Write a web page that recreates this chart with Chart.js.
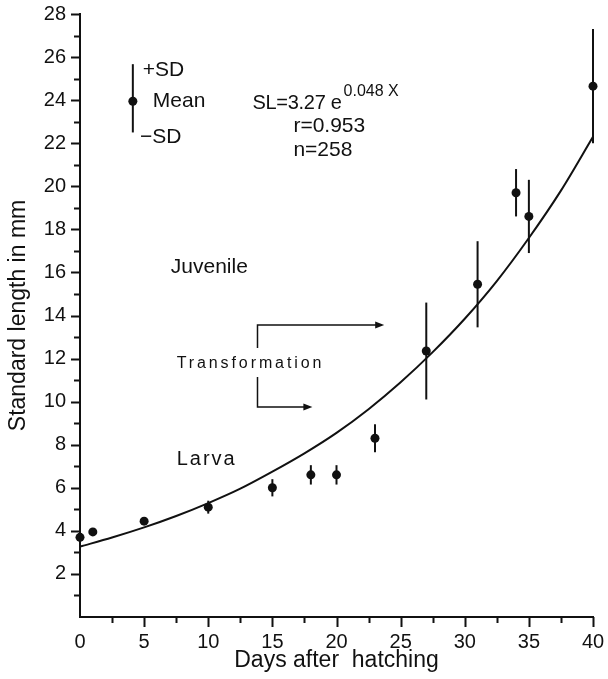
<!DOCTYPE html>
<html>
<head>
<meta charset="utf-8">
<script src="https://cdn.jsdelivr.net/npm/chart.js@4.4.0/dist/chart.umd.min.js"></script>
<style>
  body { margin: 0; background: #fff; }
</style>
</head>
<body>
<canvas id="mychart" width="608" height="679"></canvas>
<script>
// mean +- SD
const days = [0, 1, 5, 10, 15, 18, 20, 23, 27, 31, 34, 35, 40];
const meanSL = [3.7, 3.95, 4.45, 5.1, 6.0, 6.6, 6.6, 8.3, 12.35, 15.45, 19.7, 18.6, 24.65];
const sdSL = [0, 0, 0.15, 0.3, 0.4, 0.45, 0.45, 0.65, 2.25, 2.0, 1.1, 1.7, 2.65];

// fitted curve
const fitDays = [0, 2.5, 5, 7.5, 10, 12.5, 15, 17.5, 20, 22.5, 25, 27.5, 30, 32.5, 35, 37.5, 40];
const fitSL = [3.27, 3.69, 4.16, 4.69, 5.29, 5.96, 6.75, 7.6, 8.55, 9.65, 10.9, 12.3, 13.85, 15.6, 17.6, 19.8, 22.3];

// axis ticks
const xMinorStep = 2.5;
const xTickStep = 5;
const yMinorStep = 1;
const yTickStep = 2;

const FONT = '"Liberation Sans", Arial, sans-serif';
const INK = '#111';
Chart.defaults.font.family = FONT;
Chart.defaults.color = INK;

// keep the plot box where the figure has it
function fixBox(s, size) {
  if (s.isHorizontal()) s.height = size; else s.width = size;
  s.paddingTop = 0;
  s.paddingBottom = 0;
  s.paddingLeft = 0;
  s.paddingRight = 0;
}

const extras = {
  id: 'extras',
  afterDatasetsDraw(chart) {
    const { ctx, scales: { x, y } } = chart;
    ctx.save();
    ctx.strokeStyle = INK;
    ctx.lineWidth = 2;
    // SD bars
    days.forEach((d, i) => {
      if (!sdSL[i]) return;
      const px = x.getPixelForValue(d);
      ctx.beginPath();
      ctx.moveTo(px, y.getPixelForValue(meanSL[i] + sdSL[i]));
      ctx.lineTo(px, y.getPixelForValue(meanSL[i] - sdSL[i]));
      ctx.stroke();
    });
    ctx.restore();
  },
  afterDraw(chart) {
    const { ctx, chartArea: a, scales: { x, y } } = chart;
    const X = v => x.getPixelForValue(v);
    const Y = v => y.getPixelForValue(v);
    ctx.save();
    ctx.strokeStyle = INK;
    ctx.fillStyle = INK;
    ctx.lineWidth = 2;

    // tick marks (major longer than minor)
    ctx.beginPath();
    for (let v = yMinorStep; v <= 28; v += yMinorStep) {
      const len = v % yTickStep === 0 ? 9 : 6;
      const py = Math.round(Y(v)) + 0.5;
      ctx.moveTo(a.left - len, py);
      ctx.lineTo(a.left, py);
    }
    for (let v = xMinorStep; v <= 40; v += xMinorStep) {
      const len = v % xTickStep === 0 ? 10 : 6;
      const px = Math.round(X(v)) + 0.5;
      ctx.moveTo(px, a.bottom);
      ctx.lineTo(px, a.bottom + len);
    }
    ctx.stroke();

    const text = (s, xv, yv, size, spacing) => {
      ctx.font = size + 'px ' + FONT;
      ctx.letterSpacing = (spacing || 0) + 'px';
      ctx.textAlign = 'left';
      ctx.textBaseline = 'middle';
      ctx.fillText(s, X(xv), Y(yv));
      return ctx.measureText(s).width;
    };

    // legend symbol
    ctx.beginPath();
    ctx.moveTo(X(4.12), Y(25.67));
    ctx.lineTo(X(4.12), Y(22.5));
    ctx.stroke();
    ctx.beginPath();
    ctx.arc(X(4.12), Y(23.95), 4.5, 0, Math.PI * 2);
    ctx.fill();
    text('+SD', 4.9, 25.4, 21);
    text('Mean', 5.68, 23.96, 21);
    text('\u2212SD', 4.67, 22.28, 21);

    // equation, exponent right after the "e"
    const w = text('SL=3.27 e', 13.45, 23.86, 20, -0.3);
    ctx.font = '16px ' + FONT;
    ctx.letterSpacing = '0px';
    ctx.fillText('0.048 X', X(13.45) + w + 2, Y(24.4));
    text('r=0.953', 16.64, 22.8, 21);
    text('n=258', 16.64, 21.68, 21);

    // stages
    text('Juvenile', 7.08, 16.25, 21);
    text('Transformation', 7.54, 11.79, 16, 2.9);
    text('Larva', 7.54, 7.33, 20, 2);

    // brackets with arrows
    const bracket = (xv, y0, y1, x1) => {
      ctx.lineWidth = 1.5;
      ctx.beginPath();
      ctx.moveTo(X(xv), Y(y0));
      ctx.lineTo(X(xv), Y(y1));
      ctx.lineTo(X(x1) - 6, Y(y1));
      ctx.stroke();
      ctx.beginPath();
      ctx.moveTo(X(x1), Y(y1));
      ctx.lineTo(X(x1) - 9, Y(y1) - 3.5);
      ctx.lineTo(X(x1) - 9, Y(y1) + 3.5);
      ctx.closePath();
      ctx.fill();
    };
    bracket(13.84, 12.49, 13.56, 23.72);
    bracket(13.84, 11.14, 9.75, 18.12);

    ctx.restore();
  }
};

const ctx = document.getElementById('mychart');
const myChart = new Chart(ctx, {
  data: {
    datasets: [{
      type: 'line',
      data: fitDays.map((d, i) => ({ x: d, y: fitSL[i] })),
      borderColor: INK,
      borderWidth: 2,
      pointRadius: 0,
      cubicInterpolationMode: 'monotone',
      fill: false,
    }, {
      type: 'scatter',
      data: days.map((d, i) => ({ x: d, y: meanSL[i] })),
      backgroundColor: INK,
      borderColor: INK,
      borderWidth: 0,
      pointRadius: 4.5,
      clip: false,
    }],
  },
  options: {
    responsive: false,
    animation: false,
    events: [],
    layout: { padding: { top: 14, right: 15, left: 0, bottom: 0 } },
    plugins: { legend: { display: false }, tooltip: { enabled: false } },
    scales: {
      x: {
        type: 'linear',
        min: 0,
        max: 40,
        grid: { display: false, drawTicks: false },
        border: { display: true, color: INK, width: 2 },
        ticks: { stepSize: xTickStep, color: INK, font: { size: 20 }, padding: 13, maxRotation: 0 },
        title: { display: true, text: 'Days after  hatching', color: INK, font: { size: 23 }, padding: { top: 0, bottom: 5 } },
        afterFit(s) { fixBox(s, 62); },
      },
      y: {
        type: 'linear',
        min: 0,
        max: 28,
        grid: { display: false, drawTicks: false },
        border: { display: true, color: INK, width: 2 },
        ticks: {
          stepSize: yTickStep, color: INK, font: { size: 20 }, padding: 14,
          callback: v => (v === 0 ? '' : v),
        },
        title: { display: true, text: 'Standard length in mm', color: INK, font: { size: 23 }, padding: { top: 5, bottom: 0 } },
        afterFit(s) { fixBox(s, 80); },
      },
    },
  },
  plugins: [extras],
});
</script>
</body>
</html>
